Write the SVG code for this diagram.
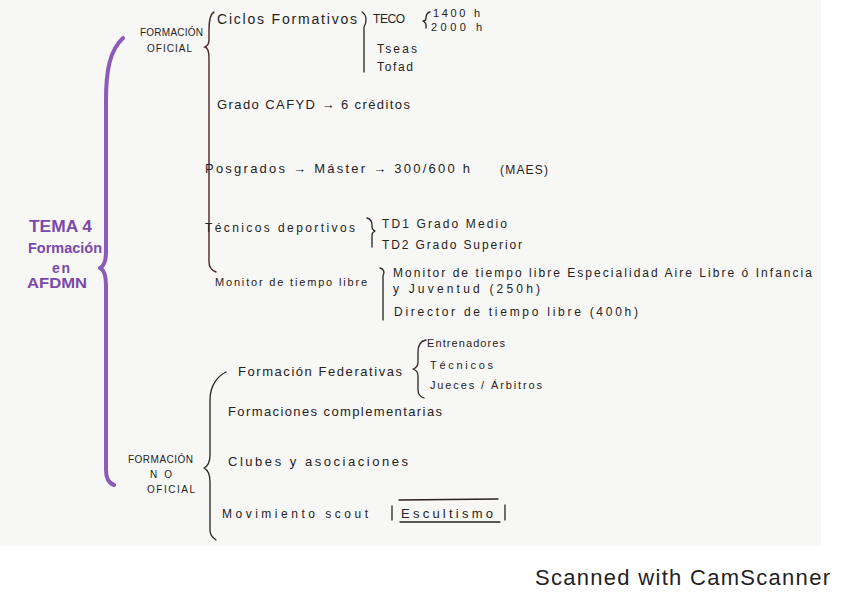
<svg xmlns="http://www.w3.org/2000/svg" width="848" height="599" viewBox="0 0 848 599">
<style>
.t{font-family:"Liberation Sans",Arial,sans-serif;fill:#262222}
.p{font-family:"Liberation Sans",Arial,sans-serif;fill:#7b48ab;font-weight:bold}
.b{fill:none;stroke:#2b2424;stroke-width:1.3;stroke-linecap:round;stroke-linejoin:round}
.br{fill:none;stroke:#4a2626;stroke-width:1.4;stroke-linecap:round}
.pb{fill:none;stroke:#8a5cb8;stroke-width:4;stroke-linecap:round;stroke-linejoin:round}
</style>
<rect x="0" y="0" width="848" height="599" fill="#ffffff"/>
<rect x="0" y="0" width="821" height="546" fill="#f7f7f5"/>

<g id="connectors">
  <path class="pb" d="M123,38 C110,50 106,70 106,100 L106,252 C106,262 104,266 100,268 C104,270 106,275 106,285 L106,470 C106,478 108,483 114,485"/>
  <path class="br" d="M214,12 C210,14 209,20 209,30 L209,40 C209,44 207,46 205,47 C208,48 209,52 209,58 L209,262 C209,267 211,270 216,272"/>
  <path class="b" d="M362,12 C367,15 367,22 364,27 L364,72"/>
  <path class="b" d="M430,12 C426,13 426,16 426,18 C426,20 425,21 423,21 C425,22 426,23 426,25 L426,28"/>
  <path class="b" d="M367,218 C371,219 372,221 372,225 L372,227 C372,229 373,230 375,231 C373,232 372,233 372,235 L372,247"/>
  <path class="b" d="M380,268 C384,269 385,272 383,276 L383,320"/>
  <path class="b" d="M426,340 C420,341 418,345 418,352 L418,362 C418,366 416,368 413,369 C416,370 418,372 418,376 L418,390 C418,395 421,397 424,398"/>
  <path class="b" d="M226,372 C218,376 210,385 210,400 L210,455 C210,462 208,466 204,468 C208,470 210,474 210,482 L210,530 C210,535 213,538 216,540"/>
  <path class="b" d="M392,506 L392,520 M505,505 L505,520 M399,500 L498,499 M400,522 L500,522"/>
</g>

<g id="tema">
  <text class="p" x="29" y="232" font-size="17" textLength="63" lengthAdjust="spacingAndGlyphs">TEMA 4</text>
  <text class="p" x="28" y="253" font-size="15" textLength="74" lengthAdjust="spacingAndGlyphs">Formación</text>
  <text class="p" x="52" y="273" font-size="14" textLength="18" lengthAdjust="spacing">en</text>
  <text class="p" x="27" y="288" font-size="14" textLength="60" lengthAdjust="spacingAndGlyphs">AFDMN</text>
</g>

<g id="formacion-oficial">
  <text class="t" x="140" y="36" font-size="10" textLength="63" lengthAdjust="spacing">FORMACIÓN</text>
  <text class="t" x="147" y="52" font-size="10" textLength="45" lengthAdjust="spacing">OFICIAL</text>
</g>
<g id="ciclos">
  <text class="t" x="217" y="24" font-size="14" textLength="140" lengthAdjust="spacing">Ciclos Formativos</text>
</g>
<g id="teco">
  <text class="t" x="373" y="23" font-size="12" textLength="32" lengthAdjust="spacing">TECO</text>
</g>
<g id="h1400"><text class="t" x="433" y="17" font-size="11" textLength="47" lengthAdjust="spacing">1400 h</text></g>
<g id="h2000"><text class="t" x="431" y="31" font-size="11" textLength="51" lengthAdjust="spacing">2000 h</text></g>
<g id="tseas"><text class="t" x="377" y="53" font-size="12" textLength="40" lengthAdjust="spacing">Tseas</text></g>
<g id="tofad"><text class="t" x="377" y="71" font-size="12" textLength="36" lengthAdjust="spacing">Tofad</text></g>
<g id="grado"><text class="t" x="217" y="109" font-size="13" textLength="193" lengthAdjust="spacing">Grado CAFYD → 6 créditos</text></g>
<g id="posgrados">
  <text class="t" x="205" y="173" font-size="13" textLength="265" lengthAdjust="spacing">Posgrados → Máster → 300/600 h</text>
  <text class="t" x="500" y="174" font-size="12" textLength="48" lengthAdjust="spacing">(MAES)</text>
</g>
<g id="tecnicos-deportivos"><text class="t" x="205" y="232" font-size="12" textLength="150" lengthAdjust="spacing">Técnicos deportivos</text></g>
<g id="td1"><text class="t" x="382" y="228" font-size="12" textLength="125" lengthAdjust="spacing">TD1 Grado Medio</text></g>
<g id="td2"><text class="t" x="382" y="249" font-size="12" textLength="140" lengthAdjust="spacing">TD2 Grado Superior</text></g>
<g id="monitor"><text class="t" x="215" y="286" font-size="11" textLength="152" lengthAdjust="spacing">Monitor de tiempo libre</text></g>
<g id="monitor-especialidad">
  <text class="t" x="393" y="277" font-size="12" textLength="419" lengthAdjust="spacing">Monitor de tiempo libre Especialidad Aire Libre ó Infancia</text>
  <text class="t" x="393" y="293" font-size="12" textLength="147" lengthAdjust="spacing">y Juventud (250h)</text>
</g>
<g id="director"><text class="t" x="394" y="316" font-size="12" textLength="244" lengthAdjust="spacing">Director de tiempo libre (400h)</text></g>

<g id="formacion-no-oficial">
  <text class="t" x="128" y="463" font-size="10" textLength="65" lengthAdjust="spacing">FORMACIÓN</text>
  <text class="t" x="150" y="478" font-size="10" textLength="22" lengthAdjust="spacing">NO</text>
  <text class="t" x="147" y="493" font-size="10" textLength="48" lengthAdjust="spacing">OFICIAL</text>
</g>
<g id="federativas"><text class="t" x="238" y="376" font-size="13" textLength="164" lengthAdjust="spacing">Formación Federativas</text></g>
<g id="entrenadores"><text class="t" x="427" y="347" font-size="11" textLength="78" lengthAdjust="spacing">Entrenadores</text></g>
<g id="tecnicos"><text class="t" x="430" y="369" font-size="11" textLength="63" lengthAdjust="spacing">Técnicos</text></g>
<g id="jueces"><text class="t" x="430" y="389" font-size="11" textLength="112" lengthAdjust="spacing">Jueces / Árbitros</text></g>
<g id="complementarias"><text class="t" x="228" y="416" font-size="13" textLength="214" lengthAdjust="spacing">Formaciones complementarias</text></g>
<g id="clubes"><text class="t" x="228" y="466" font-size="13" textLength="180" lengthAdjust="spacing">Clubes y asociaciones</text></g>
<g id="scout"><text class="t" x="222" y="518" font-size="12" textLength="146" lengthAdjust="spacing">Movimiento scout</text></g>
<g id="escultismo"><text class="t" x="401" y="518" font-size="13" textLength="92" lengthAdjust="spacing">Escultismo</text></g>

<text x="535" y="585" font-family="Liberation Sans, Arial, sans-serif" font-size="22" fill="#222" textLength="295" lengthAdjust="spacing">Scanned with CamScanner</text>
</svg>
